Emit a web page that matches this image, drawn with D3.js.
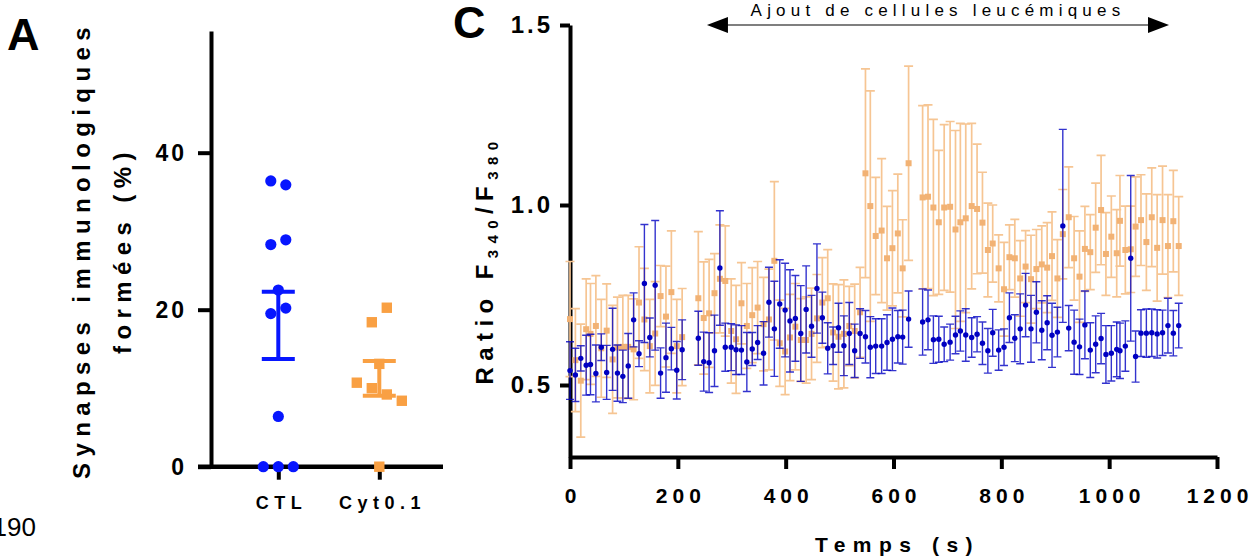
<!DOCTYPE html>
<html>
  <head>
    <meta charset="utf-8">
    <title>Synapses immunologiques et ratio F340/F380</title>
    <script src="https://cdn.jsdelivr.net/npm/d3@7"></script>
    <style>
      body { margin: 0; background: #fff; }
      svg { display: block; font-family: "Liberation Sans", Arial, sans-serif; }
    </style>
  </head>

  <body>
    <svg id="chart" width="1257" height="560"></svg>

    <script>
      // ---- panel A : % synapses formées ----
      const groups = ["CTL", "Cyt0.1"];
      const ctlSynapses = [36.4, 35.9, 28.3, 28.9, 22.5, 19.5, 20.2, 6.4, 0, 0, 0];
      const cytSynapses = [18.4, 20.25, 13.1, 10.7, 10.0, 9.2, 8.4, 0];
      const synapseTicks = [0, 20, 40];

      // ---- panel C : ratio F340/F380 dans le temps ----
      const times = [0, 10, 20, 30, 38, 48, 58, 68, 79, 88, 98, 108, 118, 128, 138, 148, 158, 168, 178, 188, 198, 208,
        238, 248, 258, 268, 278, 288, 299, 308, 318, 328, 338, 348,
        359, 369, 379, 389, 399, 408, 418, 428, 438, 448, 458, 468, 478, 488, 498, 508, 518, 528, 538, 548, 557, 567, 578, 588, 598, 608, 617, 628,
        654, 664, 674, 684, 694, 705, 715, 724, 734,
        745, 755, 765, 775, 784, 795, 805, 815, 825, 835, 845, 855, 865, 875, 885, 894, 904, 914, 925, 935, 945, 955, 965, 975, 985, 994, 1004, 1014, 1020, 1030, 1040, 1049, 1059, 1069, 1079, 1089, 1099, 1109, 1119, 1129];
      const ctlRatio = [0.540, 0.528, 0.574, 0.555, 0.557, 0.532, 0.605, 0.535, 0.599, 0.533, 0.524, 0.553, 0.681, 0.587, 0.782, 0.632, 0.777, 0.533, 0.576, 0.601, 0.541, 0.598,
        0.630, 0.565, 0.562, 0.595, 0.825, 0.605, 0.605, 0.598, 0.597, 0.564, 0.600, 0.618,
        0.588, 0.730, 0.656, 0.725, 0.708, 0.678, 0.685, 0.643, 0.710, 0.663, 0.768, 0.687, 0.602, 0.609, 0.659, 0.609, 0.643, 0.595, 0.643, 0.634, 0.605, 0.608, 0.608, 0.618, 0.627, 0.634, 0.633, 0.683,
        0.675, 0.681, 0.626, 0.627, 0.613, 0.619, 0.639, 0.650, 0.639,
        0.632, 0.641, 0.616, 0.595, 0.645, 0.597, 0.605, 0.687, 0.630, 0.656, 0.722, 0.656, 0.702, 0.652, 0.673, 0.638, 0.647, 0.942, 0.658, 0.619, 0.606, 0.667, 0.597, 0.613, 0.629, 0.585, 0.588, 0.599, 0.595, 0.608, 0.852, 0.579, 0.644, 0.644, 0.645, 0.642, 0.645, 0.665, 0.644, 0.665];
      const ctlSem = [0.080, 0.074, 0.035, 0.083, 0.084, 0.079, 0.037, 0.075, 0.114, 0.078, 0.073, 0.090, 0.075, 0.036, 0.164, 0.054, 0.180, 0.070, 0.096, 0.059, 0.080, 0.083,
        0.075, 0.082, 0.083, 0.099, 0.159, 0.067, 0.065, 0.069, 0.068, 0.082, 0.046, 0.047,
        0.088, 0.097, 0.132, 0.123, 0.130, 0.142, 0.119, 0.133, 0.121, 0.086, 0.124, 0.071, 0.071, 0.052, 0.068, 0.083, 0.086, 0.074, 0.069, 0.073, 0.085, 0.076, 0.076, 0.077, 0.087, 0.073, 0.075, 0.078,
        0.092, 0.083, 0.066, 0.064, 0.048, 0.050, 0.052, 0.056, 0.073,
        0.055, 0.049, 0.059, 0.062, 0.065, 0.056, 0.051, 0.069, 0.065, 0.097, 0.088, 0.093, 0.085, 0.082, 0.075, 0.089, 0.069, 0.268, 0.063, 0.089, 0.077, 0.094, 0.076, 0.079, 0.070, 0.080, 0.077, 0.076, 0.077, 0.070, 0.230, 0.071, 0.065, 0.067, 0.066, 0.067, 0.063, 0.076, 0.063, 0.062];
      const cytRatio = [0.683, 0.569, 0.512, 0.655, 0.642, 0.664, 0.602, 0.651, 0.571, 0.604, 0.606, 0.606, 0.599, 0.729, 0.682, 0.608, 0.643, 0.747, 0.690, 0.758, 0.608, 0.633,
        0.741, 0.686, 0.699, 0.755, 0.795, 0.789, 0.650, 0.627, 0.727, 0.664, 0.694, 0.715,
        0.669, 0.682, 0.845, 0.616, 0.593, 0.632, 0.662, 0.625, 0.625, 0.642, 0.685, 0.729, 0.741, 0.646, 0.634, 0.642, 0.664, 0.650, 0.702, 1.088, 0.997, 0.914, 0.929, 0.852, 0.880, 0.921, 0.824, 1.116,
        1.021, 1.023, 0.993, 0.952, 0.993, 0.995, 0.932, 0.952, 0.963,
        0.997, 0.989, 0.951, 0.875, 0.893, 0.824, 0.766, 0.855, 0.852, 0.796, 0.829, 0.794, 0.822, 0.835, 0.826, 0.858, 0.796, 0.919, 0.966, 0.852, 0.801, 0.878, 0.869, 0.937, 0.986, 0.864, 0.912, 0.866, 0.956, 0.875, 0.877, 0.940, 0.958, 0.897, 0.966, 0.881, 0.958, 0.886, 0.955, 0.886];
      const cytSem = [0.160, 0.143, 0.157, 0.140, 0.140, 0.140, 0.136, 0.130, 0.150, 0.140, 0.143, 0.143, 0.140, 0.155, 0.142, 0.130, 0.144, 0.085, 0.140, 0.170, 0.130, 0.135,
        0.185, 0.156, 0.150, 0.110, 0.150, 0.153, 0.145, 0.150, 0.113, 0.118, 0.132, 0.128,
        0.130, 0.140, 0.220, 0.120, 0.120, 0.120, 0.120, 0.115, 0.120, 0.127, 0.122, 0.125, 0.135, 0.135, 0.145, 0.150, 0.110, 0.130, 0.125, 0.290, 0.320, 0.163, 0.200, 0.144, 0.160, 0.165, 0.135, 0.270,
        0.255, 0.255, 0.245, 0.200, 0.230, 0.237, 0.275, 0.275, 0.262,
        0.230, 0.180, 0.140, 0.130, 0.107, 0.093, 0.130, 0.090, 0.108, 0.105, 0.100, 0.122, 0.110, 0.107, 0.125, 0.123, 0.108, 0.124, 0.140, 0.116, 0.127, 0.118, 0.104, 0.124, 0.152, 0.115, 0.113, 0.121, 0.126, 0.122, 0.120, 0.138, 0.126, 0.134, 0.137, 0.148, 0.150, 0.143, 0.141, 0.137];
      const ratioTicks = [0.5, 1.0, 1.5];
      const timeTicks = [0, 200, 400, 600, 800, 1000, 1200];
      const additionSpan = [254, 1111]; // ajout de cellules leucémiques (s)

      const blueA = "#0716ff", orangeA = "#f9a043";
      const blueC = "#0000c2", orangeC = "#f2b274", orangeBar = "#f6c593";

      const svg = d3.select("#chart");

      function styleAxis(g, size, spacing) {
        g.attr("font-family", null).attr("font-size", null);
        g.select(".domain").attr("stroke", "#000").attr("stroke-width", 4);
        g.selectAll(".tick line").attr("stroke", "#000").attr("stroke-width", 4);
        g.selectAll(".tick text")
          .attr("fill", "#000")
          .attr("font-size", size)
          .attr("font-weight", "bold")
          .style("letter-spacing", spacing + "px");
      }

      // spread points of a column that would overlap (same look as the scatter)
      function dodge(values, y, gap, step) {
        const order = d3.range(values.length).sort((a, b) => values[b] - values[a]);
        const offsets = values.map(() => 0);
        let cluster = [];
        const flush = () => {
          cluster.sort((a, b) => a - b);
          cluster.forEach((idx, k) => offsets[idx] = (k - (cluster.length - 1) / 2) * step);
          cluster = [];
        };
        order.forEach((idx, k) => {
          if (k > 0 && Math.abs(y(values[idx]) - y(values[order[k - 1]])) > gap) flush();
          cluster.push(idx);
        });
        flush();
        return offsets;
      }

      // ================= panel A =================
      const yA = d3.scaleLinear().domain([0, 55.5]).range([466.7, 31]);
      const xA = d3.scalePoint().domain(groups).range([278.3, 379.3]);

      svg.append("g")
        .attr("transform", "translate(211,0)")
        .call(d3.axisLeft(yA).tickValues(synapseTicks).tickSize(13).tickSizeOuter(0).tickPadding(11))
        .call(g => styleAxis(g, 23, 3));

      svg.append("line")
        .attr("x1", 198).attr("x2", 443)
        .attr("y1", yA(0)).attr("y2", yA(0))
        .attr("stroke", "#000").attr("stroke-width", 4.5);

      svg.append("g")
        .attr("transform", `translate(0,${yA(0)})`)
        .call(d3.axisBottom(xA).tickSize(13).tickSizeOuter(0).tickPadding(17))
        .call(g => styleAxis(g, 18, 5.5))
        .call(g => g.select(".domain").remove())
        .call(g => g.selectAll(".tick text").attr("dx", 2.7));

      const panelA = [
        { name: "CTL", values: ctlSynapses, color: blueA },
        { name: "Cyt0.1", values: cytSynapses, color: orangeA }
      ];

      panelA.forEach(grp => {
        const cx = xA(grp.name);
        const m = d3.mean(grp.values);
        const sem = d3.deviation(grp.values) / Math.sqrt(grp.values.length);
        const bar = svg.append("g").attr("stroke", grp.color).attr("stroke-width", 4);
        bar.append("line").attr("x1", cx).attr("x2", cx).attr("y1", yA(m - sem)).attr("y2", yA(m + sem));
        [m - sem, m + sem].forEach(v => {
          bar.append("line").attr("x1", cx - 16.5).attr("x2", cx + 16.5).attr("y1", yA(v)).attr("y2", yA(v));
        });

        const off = dodge(grp.values, yA, 15, 15);
        if (grp.name === "CTL") {
          svg.append("g").selectAll("circle")
            .data(grp.values)
            .join("circle")
            .attr("cx", (d, i) => cx + off[i])
            .attr("cy", d => yA(d))
            .attr("r", 5.6)
            .attr("fill", grp.color);
        } else {
          svg.append("g").selectAll("rect")
            .data(grp.values)
            .join("rect")
            .attr("x", (d, i) => cx + off[i] - 5.2)
            .attr("y", d => yA(d) - 5.2)
            .attr("width", 10.4).attr("height", 10.4)
            .attr("fill", grp.color);
        }
      });

      // y title A
      const titleA = svg.append("text")
        .attr("font-weight", "bold")
        .attr("font-size", 24)
        .attr("text-anchor", "middle")
        .style("letter-spacing", "6.4px");
      titleA.append("tspan").attr("x", 0).attr("y", 0).text("Synapses immunologiques");
      titleA.append("tspan").attr("x", 0).attr("y", 41).text("formées (%)");
      titleA.attr("transform", "translate(90,250) rotate(-90)");

      svg.append("text").attr("x", 7).attr("y", 50)
        .attr("font-size", 45).attr("font-weight", "bold").text("A");

      svg.append("text").attr("x", 36).attr("y", 536)
        .attr("font-size", 26).attr("text-anchor", "end").text("190");

      // ================= panel C =================
      const xC = d3.scaleLinear().domain([0, 1200]).range([570, 1217]);
      const yC = d3.scaleLinear().domain([0.3, 1.5]).range([457, 25]);

      svg.append("g")
        .attr("transform", "translate(570,0)")
        .call(d3.axisLeft(yC).tickValues(ratioTicks).tickFormat(d3.format(".1f")).tickSize(10).tickSizeOuter(0).tickPadding(7))
        .call(g => styleAxis(g, 24, 3));

      svg.append("g")
        .attr("transform", `translate(0,${yC(0.3)})`)
        .call(d3.axisBottom(xC).tickValues(timeTicks).tickFormat(d3.format("d")).tickSize(12).tickSizeOuter(0).tickPadding(19))
        .call(g => styleAxis(g, 21, 5))
        .call(g => g.selectAll(".tick text").attr("dx", 2.5));

      const rows = times.map((t, i) => ({
        t: t, ctl: ctlRatio[i], ctlE: ctlSem[i], cyt: cytRatio[i], cytE: cytSem[i]
      }));

      // Cyt0.1 error bars then squares
      const orangeBars = svg.append("g").attr("stroke", orangeBar).attr("stroke-width", 1.7).attr("fill", "none");
      orangeBars.selectAll("path")
        .data(rows)
        .join("path")
        .attr("d", d => {
          const x = xC(d.t), y1 = yC(d.cyt + d.cytE), y2 = yC(d.cyt - d.cytE);
          return `M${x - 4.5},${y1}H${x + 4.5}M${x},${y1}V${y2}M${x - 4.5},${y2}H${x + 4.5}`;
        });
      svg.append("g").selectAll("rect")
        .data(rows)
        .join("rect")
        .attr("x", d => xC(d.t) - 3)
        .attr("y", d => yC(d.cyt) - 3)
        .attr("width", 6).attr("height", 6)
        .attr("fill", orangeC);

      // CTL error bars then dots
      const blueBars = svg.append("g").attr("stroke", blueC).attr("stroke-width", 1.4)
        .attr("stroke-opacity", 0.8).attr("fill", "none");
      blueBars.selectAll("path")
        .data(rows)
        .join("path")
        .attr("d", d => {
          const x = xC(d.t), y1 = yC(d.ctl + d.ctlE), y2 = yC(d.ctl - d.ctlE);
          return `M${x - 4},${y1}H${x + 4}M${x},${y1}V${y2}M${x - 4},${y2}H${x + 4}`;
        });
      svg.append("g").selectAll("circle")
        .data(rows)
        .join("circle")
        .attr("cx", d => xC(d.t))
        .attr("cy", d => yC(d.ctl))
        .attr("r", 2.7)
        .attr("fill", blueC);

      // annotation arrow
      const ax1 = xC(additionSpan[0]), ax2 = xC(additionSpan[1]), ay = 25;
      svg.append("line")
        .attr("x1", ax1 + 18).attr("x2", ax2 - 18).attr("y1", ay).attr("y2", ay)
        .attr("stroke", "#555").attr("stroke-width", 1.5);
      svg.append("path")
        .attr("d", `M${ax1},${ay}L${ax1 + 21},${ay - 8}V${ay + 8}Z M${ax2},${ay}L${ax2 - 21},${ay - 8}V${ay + 8}Z`)
        .attr("fill", "#000");
      svg.append("text")
        .attr("x", (ax1 + ax2) / 2).attr("y", 16)
        .attr("text-anchor", "middle")
        .attr("font-size", 17)
        .style("letter-spacing", "5.2px")
        .text("Ajout de cellules leucémiques");

      // axis titles C
      const titleC = svg.append("text")
        .attr("transform", "translate(493,260) rotate(-90)")
        .attr("text-anchor", "middle")
        .attr("font-weight", "bold")
        .attr("font-size", 24)
        .style("letter-spacing", "6.4px");
      titleC.append("tspan").text("Ratio F");
      titleC.append("tspan").attr("font-size", 15).attr("dy", 5).text("340");
      titleC.append("tspan").attr("dy", -5).text("/F");
      titleC.append("tspan").attr("font-size", 15).attr("dy", 5).text("380");

      svg.append("text")
        .attr("x", xC(600) + 4).attr("y", 552)
        .attr("text-anchor", "middle")
        .attr("font-weight", "bold")
        .attr("font-size", 21)
        .style("letter-spacing", "7.5px")
        .text("Temps (s)");

      svg.append("text").attr("x", 453).attr("y", 38)
        .attr("font-size", 45).attr("font-weight", "bold").text("C");
    </script>
  </body>
</html>
